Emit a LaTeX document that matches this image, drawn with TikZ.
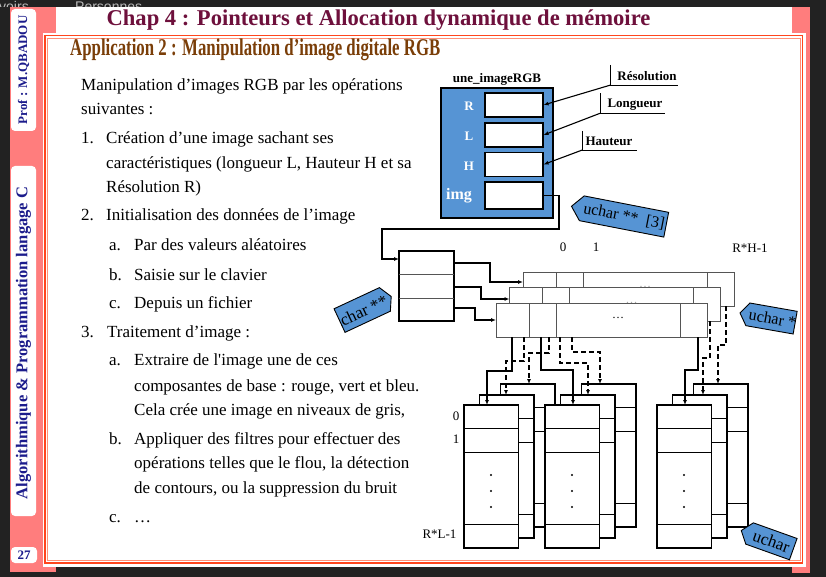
\documentclass[tikz,border=0pt]{standalone}
\usepackage{fontspec}
\setmainfont{Liberation Serif}
\newfontfamily\uifont{Liberation Sans}
\usetikzlibrary{arrows.meta}

\definecolor{screenbg}{RGB}{34,34,34}
\definecolor{slidepink}{RGB}{255,125,125}
\definecolor{framered}{RGB}{255,70,30}
\definecolor{chapcol}{RGB}{110,16,60}
\definecolor{appcol}{RGB}{122,62,8}
\definecolor{tabblue}{RGB}{28,28,140}
\definecolor{boxblue}{RGB}{86,148,212}
\definecolor{rowgray}{RGB}{85,85,85}

\newcommand{\fsz}[1]{\fontsize{#1}{#1}\selectfont}

% one row array (211 x 34) with its three separators
\newcommand{\rowarray}[3]{%
  \draw[rowbox] (#1,#2) rectangle ++(211,34);
  \draw[rowbox] (#1+33,#2) -- ++(0,34) (#1+60,#2) -- ++(0,34) (#1+184,#2) -- ++(0,34);
  \node[text=#3, font=\fsz{12}] at (#1+122,#2+15) {…};
}
% one column array (54.5 x 143)
\newcommand{\colarray}[2]{%
  \draw[colbox] (#1,#2) rectangle ++(54.5,143);
  \draw[colsep] (#1,#2+23.5) -- ++(54.5,0) (#1,#2+47) -- ++(54.5,0) (#1,#2+119) -- ++(54.5,0);
  \fill (#1+27,#2+70) circle (1.2) (#1+27,#2+86) circle (1.2) (#1+27,#2+102) circle (1.2);
}
% a group of three stacked column arrays
\newcommand{\colgroup}[2]{%
  \colarray{#1+36.5}{#2-21}
  \colarray{#1+15.5}{#2-10}
  \colarray{#1}{#2}
}

\begin{document}
\begin{tikzpicture}[x=1pt,y=-1pt,
  body/.style={anchor=base west, inner sep=0, font=\fsz{17}},
  field/.style={draw, fill=white, line width=1.1, minimum width=58, minimum height=24, inner sep=0},
  flabel/.style={text=white, font=\bfseries\fsz{13}},
  tagshape/.style={fill=boxblue, draw=black, line width=0.9},
  rowbox/.style={draw=rowgray, line width=1, fill=white},
  colbox/.style={draw=black, line width=1.9, fill=white},
  colsep/.style={draw=black, line width=0.9},
  conn/.style={line width=1.1, -{Latex[length=5,width=4]}},
  dconn/.style={conn, dash pattern=on 5pt off 3pt},
  tick/.style={font=\fsz{13}},
  callout/.style={line width=0.9},
  sidetab/.style={fill=white, rounded corners=4}]

\useasboundingbox (0,0) rectangle (826,577);
\fill[screenbg] (0,0) rectangle (826,577);

% window titles peeking above the slide
\begin{scope}
  \clip (0,0) rectangle (826,7);
  \node[anchor=base west, inner sep=0, text=gray!55, font=\uifont\fsz{14}] at (-1,12) {voirs};
  \node[anchor=base west, inner sep=0, text=gray!55, font=\uifont\fsz{14}] at (75,12) {Personnes};
\end{scope}

% slide background and frame
\fill[slidepink] (10,7) rectangle (56,572);
\fill[slidepink] (792,7) rectangle (810,573);
\fill[white] (56,7) rectangle (792,33);
\fill[white] (43,33) rectangle (806,567);
\draw[framered, line width=1.8] (45,35.5) rectangle (802.5,563);
\draw[framered!60, line width=0.7] (47.5,38) rectangle (800,560.5);

% side tabs
\fill[sidetab] (11,9) rectangle (36,131);
\node[rotate=90, text=tabblue, font=\bfseries\fsz{13}] (tabprof) at (23.5,70) {Prof : M.QBADOU};
\fill[sidetab] (11,166) rectangle (36,516);
\node[rotate=90, text=tabblue, font=\bfseries\fsz{16.5}] (tabcourse) at (23.5,343) {Algorithmique \& Programmation langage C};
\fill[sidetab] (11,547) rectangle (37,563);
\node[text=tabblue, font=\bfseries\fsz{13}] (pagenum) at (24,555) {27};

% titles
\node[text=chapcol, font=\bfseries\fsz{22.6}] (chap) at (378.5,20) {Chap 4 : Pointeurs et Allocation dynamique de mémoire};
\node[anchor=west, inner sep=0, text=appcol, font=\bfseries\fsz{24}] (app) at (70,50) {\scalebox{0.7}[1]{Application 2 : Manipulation d’image digitale RGB}};

% body text
\node[body] at (81,91) {Manipulation d’images RGB par les opérations};
\node[body] at (81,115) {suivantes :};
\node[body] at (81,144) {1.};
\node[body] at (106,144) {Création d’une image sachant ses};
\node[body] at (106,169) {caractéristiques (longueur L, Hauteur H et sa};
\node[body] at (106,193) {Résolution R)};
\node[body] at (81,221) {2.};
\node[body] at (106,221) {Initialisation des données de l’image};
\node[body] at (109,250) {a.};
\node[body] at (134,250) {Par des valeurs aléatoires};
\node[body] at (109,280) {b.};
\node[body] at (134,280) {Saisie sur le clavier};
\node[body] at (109,308) {c.};
\node[body] at (134,308) {Depuis un fichier};
\node[body] at (81,337) {3.};
\node[body] at (107,337) {Traitement d’image :};
\node[body] at (109,365) {a.};
\node[body] at (134,365) {Extraire de l\textquotesingle image une de ces};
\node[body] at (134,391) {composantes de base : rouge, vert et bleu.};
\node[body] at (134,415) {Cela crée une image en niveaux de gris,};
\node[body] at (109,444) {b.};
\node[body] at (134,444) {Appliquer des filtres pour effectuer des};
\node[body] at (134,468) {opérations telles que le flou, la détection};
\node[body] at (134,493) {de contours, ou la suppression du bruit};
\node[body] at (109,522) {c.};
\node[body] at (134,522) {…};

% the structure une_imageRGB
\node[font=\bfseries\fsz{13}] (sname) at (497,79) {une\_imageRGB};
\draw[fill=boxblue, line width=1.2] (441,88) rectangle (553,218);
\node[field] (fR) at (514,105) {};
\node[field] (fL) at (514,135) {};
\node[field] (fH) at (514,164.5) {};
\node[field, minimum height=27] (fImg) at (514,195.5) {};
\node[flabel] at (469,106) {R};
\node[flabel] at (469,136) {L};
\node[flabel] at (469,166) {H};
\node[flabel, font=\bfseries\fsz{16}] at (459,196) {img};

% callouts naming the fields
\coordinate (cRes) at (610.7,85);
\coordinate (cLon) at (600,113.3);
\coordinate (cHau) at (582.3,150);
\draw[callout] (610.7,65) -- (cRes) -- (678,85);
\draw[callout] (600,93.3) -- (cLon) -- (665,113.3);
\draw[callout] (582.3,131) -- (cHau) -- (637,150);
\node[font=\bfseries\fsz{13}] (tRes) at (647,76) {Résolution};
\node[font=\bfseries\fsz{13}] (tLon) at (635,105) {Longueur};
\node[font=\bfseries\fsz{13}] (tHau) at (609,141.5) {Hauteur};
\draw[conn] (cRes) -- (fR.east);
\draw[conn] (cLon) -- (fL.east);
\draw[conn] (cHau) -- (fH.east);

% array of three row pointers
\draw[line width=1.8, fill=white] (399,251) rectangle (454,321);
\draw[rowgray, line width=1] (399,274.5) -- (454,274.5) (399,298) -- (454,298);
\coordinate (pArr) at (399,259);
\coordinate (p1) at (454,263);
\coordinate (p2) at (454,287);
\coordinate (p3) at (454,308);
\draw[conn] (fImg.east) -- (559,195.5) -- (559,229) -- (382,229) |- (pArr);

% three row arrays (back to front)
\rowarray{523}{272}{gray!70}
\rowarray{509.5}{287.5}{gray!70}
\rowarray{496}{303}{black}
\coordinate (rB) at (523,282);
\coordinate (rM) at (509.5,299);
\coordinate (rF) at (496,320);
\draw[conn] (p1) -- (490,263) |- (rB);
\draw[conn] (p2) -- (481,287) |- (rM);
\draw[conn] (p3) -- (475,308) |- (rF);

\node[tick] (n0) at (563,247) {0};
\node[tick] (n1) at (596,247) {1};
\node[tick] (nRH) at (750,248) {R*H-1};

% column arrays, three groups
\colgroup{464}{405}
\colgroup{545}{405}
\colgroup{657}{405}

\node[tick] (c0) at (456,416) {0};
\node[tick] (c1) at (456,439) {1};
\node[tick, anchor=east] (cRL) at (460,534) {R*L-1};

% links from row arrays to column arrays
\coordinate (g1f) at (487,405);
\coordinate (g1m) at (506,395);
\coordinate (g1b) at (529,384);
\coordinate (g2f) at (573,405);
\coordinate (g2m) at (588,395);
\coordinate (g2b) at (600,384);
\coordinate (g3f) at (685,405);
\coordinate (g3m) at (703,395);
\coordinate (g3b) at (718,384);

\draw[dconn] (524,337) -- (524,361) -| (g1m);
\draw[dconn] (549,337) -- (549,353) -| (g1b);
\draw[dconn] (560,337) -- (560,363) -| (g2m);
\draw[dconn] (572,337) -- (572,352) -| (g2b);
\draw[dconn] (710,321) -- (710,358) -| (g3m);
\draw[dconn] (726,306) -- (726,345) -| (g3b);
\draw[conn] (512,337) -- (512,371) -| (g1f);
\draw[conn] (541,337) -- (541,370) -| (g2f);
\draw[conn] (698,337) -- (698,370) -| (g3f);

% type tags
\begin{scope}[shift={(624,216.5)}, rotate=-11]
  \draw[tagshape] (-53.5,0) -- (-43,-12.6) -- (43,-12.6) -- (43,12.6) -- (-43,12.6) -- cycle;
  \node[rotate=-11, font=\fsz{16}] (tag3) at (0,0) {uchar **\ \ [3]};
\end{scope}
\begin{scope}[shift={(771.5,318.5)}, rotate=-10]
  \draw[tagshape] (-32,0) -- (-24,-11.5) -- (24,-11.5) -- (24,11.5) -- (-24,11.5) -- cycle;
  \node[rotate=-10, font=\fsz{16}] (tag1) at (1,0) {uchar *};
\end{scope}
\begin{scope}[shift={(771.4,541.3)}, rotate=-19.7]
  \draw[tagshape] (-32,0) -- (-23.2,-11.3) -- (23.2,-11.3) -- (23.2,11.3) -- (-23.2,11.3) -- cycle;
  \node[rotate=-19.7, font=\fsz{17}] (tag0) at (0,0) {uchar};
\end{scope}
\begin{scope}[shift={(362.2,310)}, rotate=25]
  \draw[tagshape] (-25,-13) -- (25,-13) -- (32,0) -- (25,13) -- (-25,13) -- cycle;
  \clip (-25,-13) -- (25,-13) -- (32,0) -- (25,13) -- (-25,13) -- cycle;
  \node[rotate=25, anchor=east, font=\fsz{17}] (tag2) at (30,1) {uchar **};
\end{scope}

\end{tikzpicture}
\end{document}
